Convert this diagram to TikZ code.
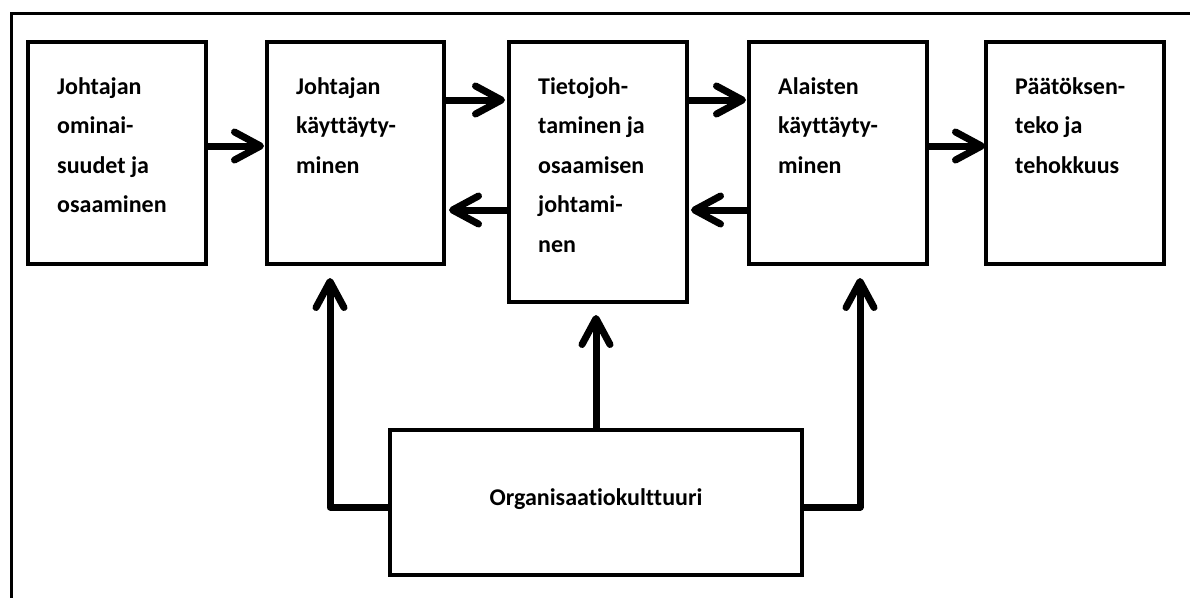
\documentclass[tikz,border=0pt]{standalone}
\usepackage{fontspec}
\setmainfont{Carlito}[Ligatures=NoCommon]
\usetikzlibrary{arrows.meta,calc}
\begin{document}
\begin{tikzpicture}[x=1pt,y=-1pt,
  box/.style={draw, line width=3.5pt, inner sep=0pt, outer sep=0pt},
  lbl/.style={anchor=north west, inner sep=0pt, align=left,
    font=\bfseries\fontsize{24}{39.5}\selectfont},
  conn/.style={line width=7pt, line join=round,
    -{Straight Barb[length=26pt,width=28pt,round]}},
  frame/.style={line width=3pt}
]
\useasboundingbox (0,0) rectangle (1190,597);
\clip (0,0) rectangle (1190,597);
\fill[white] (0,0) rectangle (1190,597);
\draw[frame] (11,610) -- (11,13) -- (1200,13);

\node[box, minimum width=178pt, minimum height=222pt] (b1) at (117,153) {};
\node[box, minimum width=177pt, minimum height=222pt] (b2) at (355.5,153) {};
\node[box, minimum width=178pt, minimum height=260pt] (b3) at (598,172) {};
\node[box, minimum width=178pt, minimum height=222pt] (b4) at (838,153) {};
\node[box, minimum width=178pt, minimum height=222pt] (b5) at (1075,153) {};
\node[box, minimum width=412pt, minimum height=145pt] (ob) at (596,502.5) {};

\node[lbl] (t1) at ($(b1.north west)+(29,35)$) {Johtajan\\ominai-\\suudet ja\\osaaminen};
\node[lbl] (t2) at ($(b2.north west)+(29,35)$) {Johtajan\\käyttäyty-\\minen};
\node[lbl] (t3) at ($(b3.north west)+(29,35)$) {Tietojoh-\\taminen ja\\osaamisen\\johtami-\\nen};
\node[lbl] (t4) at ($(b4.north west)+(29,35)$) {Alaisten\\käyttäyty-\\minen};
\node[lbl] (t5) at ($(b5.north west)+(29,35)$) {Päätöksen-\\teko ja\\tehokkuus};
\node[anchor=base, inner sep=0pt, font=\bfseries\fontsize{24}{39}\selectfont] (t6) at (596,505) {Organisaatiokulttuuri};

\coordinate (ya) at (0,146);
\coordinate (yb) at (0,100);
\coordinate (yc) at (0,210);
\coordinate (hy) at (0,507);

\draw[conn, shorten >=3pt] (b1.east |- ya) -- (b2.west |- ya);
\draw[conn, shorten >=4pt] (b2.east |- yb) -- (b3.west |- yb);
\draw[conn, shorten >=5pt] (b3.west |- yc) -- (b2.east |- yc);
\draw[conn, shorten >=3pt] (b3.east |- yb) -- (b4.west |- yb);
\draw[conn, shorten >=4pt] (b4.west |- yc) -- (b3.east |- yc);
\draw[conn, shorten >=1pt] (b4.east |- ya) -- (b5.west |- ya);

\draw[conn, shorten >=14pt] (ob.west |- hy) -| ($(b2.south west)+(63,0)$);
\draw[conn, shorten >=14pt] (ob.east |- hy) -| ($(b4.south west)+(111,0)$);
\draw[conn, shorten >=13pt] (ob.north) -- (ob.north |- b3.south);
\end{tikzpicture}
\end{document}
